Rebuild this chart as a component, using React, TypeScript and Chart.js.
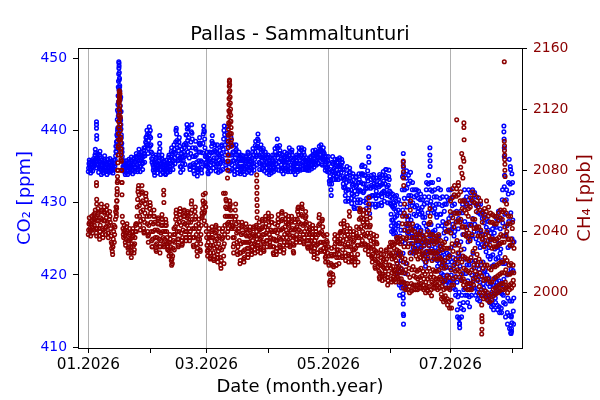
import React, { useEffect, useRef } from "react";
import { Chart, registerables } from "chart.js";

Chart.register(...registerables);

const CO2_COLOR = "#0000ff";
const CH4_COLOR = "#8b0000";

// x axis: days since 01.01.2026
const xTickDays = [0, 31, 59, 90, 120, 151, 181, 212];
const xTickLabels = ["01.2026", "", "03.2026", "", "05.2026", "", "07.2026", ""];
const co2Ticks = [410, 420, 430, 440, 450];
const ch4Ticks = [2000, 2040, 2080, 2120, 2160];

// ---- CO2 [ppm], 6 samples per day (every 4 h) ----
const co2Jan = [
  434.3, 434.8, 435.4, 435.9, 435.6, 435.0, 434.6, 434.1, 434.5, 435.2, 435.8, 435.4,
  434.9, 434.4, 435.0, 435.7, 436.1, 435.5, 435.1, 435.9, 436.6, 437.4, 436.9, 436.2,
  435.6, 434.8, 435.3, 436.1, 436.8, 436.0, 435.2, 434.2, 434.9, 435.8, 436.6, 437.1,
  436.4, 435.6, 434.7, 433.9, 434.5, 435.3, 435.9, 435.2, 434.5, 434.1, 434.6, 435.4,
  436.0, 436.5, 435.8, 435.0, 434.3, 434.8, 435.4, 434.6, 433.9, 434.4, 435.2, 436.0,
  435.6, 434.9, 434.2, 434.8, 435.5, 436.1, 435.6, 435.0, 434.3, 434.7, 435.3, 435.8,
  435.2, 434.5, 434.1, 434.8, 435.5, 435.9, 435.4, 434.6, 435.1, 435.9, 436.5, 437.1,
  437.0, 437.8, 438.5, 439.2, 439.9, 440.4, 442.5, 444.0, 445.6, 447.0, 446.0, 444.4,
  442.6, 441.4, 440.2, 439.0, 438.2, 437.5, 436.4, 435.8, 435.0, 434.4, 434.8, 435.4,
  435.8, 435.2, 434.5, 433.9, 434.2, 434.9, 435.4, 435.8, 435.1, 434.5, 433.9, 434.4,
  434.9, 435.5, 436.0, 435.4, 434.7, 434.2, 434.6, 435.2, 435.9, 436.3, 435.7, 435.0,
  434.4, 434.0, 434.6, 435.3, 436.0, 436.2, 435.6, 434.9, 434.3, 434.8, 435.6, 436.4,
  436.8, 436.1, 435.3, 434.6, 434.3, 435.0, 435.8, 436.6, 437.4, 436.8, 435.9, 435.0,
  434.3, 435.0, 435.8, 436.5, 437.0, 436.2, 435.4, 434.6, 435.5, 436.4, 437.2, 437.6,
  436.8, 435.6, 436.5, 437.6, 438.4, 439.0, 438.2, 439.1, 440.0, 439.4, 438.0, 436.8,
  437.5, 438.6, 439.6, 440.5, 439.2, 437.8,
];
const co2Feb = [
  440.0, 439.0, 438.0, 437.0, 436.1, 435.6, 436.8, 436.0, 435.2, 434.5, 434.9, 435.6,
  434.2, 433.8, 434.6, 435.4, 436.1, 436.6, 436.3, 435.6, 434.8, 434.1, 434.6, 435.2,
  435.0, 435.8, 436.6, 437.0, 436.2, 435.3, 434.5, 433.9, 434.6, 435.4, 436.1, 436.6,
  436.0, 435.3, 434.6, 434.1, 434.8, 435.6, 435.8, 435.2, 434.6, 434.0, 433.9, 434.6,
  435.2, 435.9, 435.4, 434.7, 434.2, 434.8, 435.5, 436.3, 436.6, 435.8, 435.0, 434.3,
  434.6, 435.4, 436.3, 437.1, 437.6, 436.8, 436.0, 435.2, 434.6, 435.8, 437.0, 438.0,
  437.4, 436.2, 435.4, 436.8, 438.4, 440.0, 440.3, 439.5, 438.6, 437.6, 436.5, 435.8,
  436.0, 437.2, 438.4, 439.0, 437.8, 436.2, 435.0, 434.2, 434.9, 435.9, 436.8, 437.4,
  436.4, 435.4, 434.6, 435.8, 437.0, 438.0, 437.6, 436.4, 435.3, 436.6, 438.2, 439.4,
  438.0, 439.4, 440.8, 440.2, 438.6, 437.0, 440.4, 439.0, 437.6, 436.2, 435.0, 434.6,
  435.2, 436.8, 438.4, 439.8, 440.8, 439.6, 438.8, 437.6, 436.4, 435.4, 434.4, 434.9,
  434.0, 435.2, 436.4, 437.6, 438.5, 437.4, 436.6, 435.6, 434.6, 433.7, 434.3, 435.2,
  434.6, 435.8, 437.0, 438.2, 439.0, 438.0, 438.2, 437.0, 435.8, 434.6, 434.1, 434.9,
  435.6, 436.9, 438.2, 439.5, 440.6, 440.0, 439.8, 438.8, 437.6, 436.4, 435.4, 435.1,
];
const co2Mar = [
  435.6, 436.4, 437.0, 436.2, 435.0, 434.2, 434.0, 434.8, 435.8, 436.6, 437.0, 436.0,
  435.2, 434.4, 435.6, 436.9, 437.8, 438.5, 439.3, 438.2, 437.0, 435.8, 434.8, 435.4,
  436.2, 437.2, 438.0, 437.0, 435.6, 434.4, 435.0, 436.2, 437.4, 438.0, 436.8, 435.4,
  434.2, 435.0, 435.9, 436.6, 437.2, 436.4, 435.4, 434.4, 435.6, 436.8, 437.8, 438.0,
  436.0, 434.6, 435.8, 437.4, 438.8, 440.0, 440.6, 439.4, 438.0, 436.6, 435.2, 434.8,
  435.6, 437.0, 438.4, 439.6, 440.5, 439.0, 439.4, 438.0, 436.6, 435.4, 434.4, 435.6,
  436.6, 437.8, 439.0, 438.0, 436.6, 435.2, 434.6, 435.8, 437.0, 438.0, 437.0, 435.8,
  434.4, 433.9, 435.0, 436.2, 437.2, 438.0, 437.4, 436.6, 435.6, 434.6, 434.1, 435.0,
  435.8, 436.6, 437.0, 436.0, 435.0, 434.3, 434.0, 434.9, 435.8, 436.6, 436.0, 435.0,
  434.3, 435.0, 435.8, 436.5, 435.9, 435.1, 434.4, 433.9, 434.7, 435.6, 436.3, 436.5,
  435.8, 434.9, 434.2, 435.0, 436.0, 437.0, 436.8, 436.0, 435.2, 434.4, 434.9, 435.8,
  436.4, 435.6, 434.8, 434.1, 434.6, 435.4, 436.2, 437.0, 437.5, 436.6, 435.4, 434.5,
  435.0, 436.0, 437.0, 437.9, 438.5, 437.6, 436.4, 435.2, 436.6, 437.8, 438.8, 439.5,
  438.6, 437.6, 436.6, 435.6, 434.6, 435.4, 436.4, 437.4, 438.0, 437.0, 435.8, 434.6,
  435.2, 436.2, 437.2, 437.5, 436.4, 435.2, 434.4, 435.2, 436.2, 437.0, 436.6, 435.6,
  434.8, 434.1, 434.8, 435.6, 436.3, 436.6,
];
const co2Apr = [
  436.2, 435.4, 434.6, 433.9, 434.5, 435.4, 436.2, 435.5, 434.8, 434.1, 434.5, 435.3,
  436.0, 436.6, 435.8, 435.0, 434.3, 434.8, 435.6, 436.6, 437.5, 437.0, 435.8, 434.6,
  435.4, 436.6, 437.8, 438.8, 437.6, 436.2, 435.0, 434.5, 435.6, 436.8, 437.9, 437.2,
  436.8, 436.0, 435.2, 434.4, 434.8, 435.8, 436.6, 435.7, 434.8, 434.0, 434.6, 435.6,
  436.4, 437.0, 436.2, 435.2, 434.4, 434.8, 435.6, 436.4, 436.8, 435.9, 435.0, 434.3,
  434.6, 435.6, 436.6, 437.6, 437.0, 436.0, 434.8, 434.3, 435.2, 436.2, 437.0, 437.3,
  436.6, 435.9, 435.1, 434.3, 434.6, 435.4, 436.1, 435.3, 434.5, 433.9, 434.6, 435.5,
  436.3, 436.6, 435.8, 435.0, 434.3, 434.6, 435.4, 436.5, 437.6, 437.0, 435.8, 434.7,
  434.5, 435.4, 436.4, 437.3, 437.6, 436.6, 435.6, 434.6, 435.2, 436.2, 437.0, 437.4,
  436.6, 435.9, 435.2, 434.6, 434.9, 435.7, 436.2, 435.6, 434.9, 434.5, 434.8, 435.5,
  436.0, 435.4, 434.8, 434.5, 435.0, 435.7, 436.2, 436.4, 435.7, 435.1, 434.7, 435.2,
  435.8, 436.6, 437.2, 436.5, 435.6, 434.9, 435.3, 436.0, 436.8, 437.3, 436.7, 435.8,
  435.2, 435.9, 436.6, 437.0, 436.3, 435.5, 435.4, 436.2, 437.0, 437.8, 437.2, 436.2,
  436.6, 437.4, 438.0, 437.2, 436.2, 435.4, 435.2, 436.0, 436.8, 437.6, 437.0, 436.1,
  436.8, 436.0, 435.2, 434.5, 434.9, 435.7, 436.4, 435.6, 434.8, 434.3, 434.9, 435.8,
];
const co2May = [
  436.4, 435.4, 434.2, 433.0, 432.6, 433.6, 434.6, 433.2, 431.8, 431.0, 432.6, 434.4,
  435.6, 436.4, 435.4, 434.2, 433.2, 433.8, 434.8, 435.6, 436.0, 435.0, 434.0, 433.2,
  433.6, 434.6, 435.6, 436.0, 435.0, 434.0, 433.2, 434.0, 435.0, 435.9, 436.2, 435.2,
  434.6, 433.4, 434.2, 435.2, 436.0, 435.6, 435.6, 434.6, 433.6, 432.6, 432.1, 433.2,
  434.6, 433.4, 432.2, 431.0, 430.2, 431.6, 432.8, 434.0, 435.0, 433.6, 431.8, 430.2,
  430.6, 431.8, 433.0, 434.2, 434.8, 433.4, 434.2, 433.0, 431.8, 430.6, 429.9, 431.2,
  432.4, 433.6, 434.0, 432.6, 431.0, 429.4, 429.2, 430.4, 431.6, 432.8, 433.5, 432.2,
  433.6, 432.4, 431.2, 430.0, 429.2, 430.4, 431.6, 432.8, 434.0, 433.2, 431.8, 430.0,
  430.4, 431.6, 432.8, 434.0, 435.0, 433.8, 435.2, 434.0, 432.6, 431.4, 430.2, 431.6,
  432.6, 433.8, 435.0, 433.8, 432.0, 430.0, 429.2, 430.6, 432.0, 433.4, 434.4, 433.0,
  433.6, 432.2, 430.8, 429.4, 428.5, 429.8, 430.8, 432.0, 433.2, 433.8, 432.4, 431.0,
  429.8, 431.0, 432.2, 433.4, 433.9, 432.6, 433.2, 432.2, 431.0, 429.8, 429.4, 430.6,
  431.6, 432.6, 433.4, 432.4, 431.0, 429.6, 429.8, 431.0, 432.2, 433.4, 433.9, 432.8,
  433.6, 432.4, 431.2, 430.0, 429.6, 430.8, 431.4, 432.6, 433.8, 434.3, 433.0, 431.6,
  430.2, 431.4, 432.6, 433.8, 434.6, 433.4, 434.6, 433.4, 432.2, 431.0, 430.0, 431.2,
  432.4, 433.6, 434.5, 433.2, 431.6, 430.0,
];
// ---- CO2 [ppm], 8 samples per day (every 3 h) ----
const co2Jun = [
  430.8, 431.4, 429.8, 428.4, 426.8, 426.0, 427.6, 429.6, 430.6, 431.2, 429.4, 427.6, 426.2, 425.7, 427.2, 429.2,
  430.0, 430.9, 429.6, 428.0, 426.4, 425.8, 427.0, 428.8, 430.2, 431.0, 428.2, 425.0, 421.6, 420.2, 423.0, 426.8,
  429.0, 430.4, 427.2, 422.8, 418.6, 417.2, 420.4, 425.4, 428.6, 429.8, 426.2, 422.0, 418.8, 418.2, 420.8, 424.6,
  431.8, 433.6, 429.0, 423.0, 416.8, 414.4, 419.0, 426.2, 430.6, 431.8, 428.2, 424.4, 420.2, 418.2, 421.6, 427.0,
  433.4, 434.4, 432.0, 429.4, 426.8, 425.8, 427.6, 430.6, 432.6, 433.8, 431.0, 428.2, 426.0, 425.2, 427.0, 430.0,
  433.0, 434.2, 431.0, 427.6, 424.4, 423.2, 425.8, 429.6, 431.8, 432.8, 430.0, 426.6, 423.8, 423.0, 425.2, 428.4,
  430.8, 431.8, 429.4, 426.4, 424.0, 423.2, 425.2, 428.2, 431.0, 431.8, 429.6, 426.8, 424.6, 423.6, 425.8, 428.8,
  430.6, 431.6, 429.2, 426.6, 424.6, 423.8, 425.6, 428.4, 430.4, 431.2, 429.0, 426.2, 424.4, 423.8, 425.6, 428.6,
  429.4, 430.4, 428.0, 425.0, 422.8, 422.2, 424.0, 427.2, 429.8, 430.8, 428.0, 424.6, 421.8, 421.2, 423.2, 426.8,
  431.8, 432.8, 430.0, 426.2, 423.0, 422.2, 424.6, 428.6, 432.6, 433.8, 430.8, 427.0, 424.0, 423.2, 425.4, 429.6,
  431.8, 432.8, 430.2, 427.0, 424.6, 423.6, 425.8, 429.0, 431.6, 432.8, 429.6, 426.0, 423.0, 422.2, 424.6, 428.6,
  430.8, 431.8, 429.2, 426.2, 423.8, 423.0, 425.0, 428.4, 429.8, 430.8, 428.0, 424.6, 422.0, 421.2, 423.2, 426.8,
  432.0, 433.2, 429.8, 425.4, 422.6, 421.6, 424.0, 428.4, 430.6, 431.8, 428.4, 424.0, 421.0, 420.2, 422.6, 426.8,
  429.6, 430.8, 427.4, 423.2, 420.0, 419.2, 421.6, 425.8, 428.8, 429.8, 426.4, 422.4, 419.4, 418.6, 421.0, 425.0,
  429.8, 430.8, 427.2, 423.0, 420.0, 419.2, 421.8, 426.0, 430.4, 431.8, 427.8, 422.8, 419.0, 418.2, 421.0, 426.2,
];
const co2Jul = [
  430.6, 431.8, 428.2, 423.8, 420.0, 419.2, 421.8, 426.4, 429.6, 430.8, 427.0, 422.4, 419.0, 418.2, 420.8, 425.4,
  428.6, 429.8, 426.0, 421.6, 418.0, 417.2, 419.8, 424.4, 427.4, 428.8, 424.4, 419.0, 415.2, 414.2, 417.0, 422.4,
  426.4, 427.8, 423.0, 417.6, 414.0, 413.2, 416.0, 421.2, 427.4, 428.8, 424.6, 419.4, 415.4, 414.2, 417.2, 422.6,
  428.6, 429.8, 425.6, 420.2, 416.2, 415.2, 418.0, 423.6, 430.4, 431.8, 427.4, 422.2, 418.2, 417.2, 420.2, 425.6,
  429.6, 430.8, 426.6, 421.4, 417.2, 416.2, 419.2, 424.6, 430.4, 431.8, 427.0, 421.4, 417.0, 415.6, 418.8, 425.0,
  430.0, 431.4, 427.0, 422.0, 418.2, 417.2, 420.0, 425.4, 430.6, 431.8, 427.8, 423.0, 419.2, 418.2, 421.0, 426.0,
  430.0, 431.4, 427.0, 422.0, 418.2, 417.2, 420.0, 425.0, 429.6, 430.8, 426.6, 421.4, 417.6, 416.6, 419.4, 424.4,
  428.6, 429.8, 425.8, 420.8, 417.2, 416.4, 419.0, 423.8, 428.4, 429.8, 426.0, 421.4, 418.0, 417.2, 419.8, 424.2,
  427.8, 428.8, 425.6, 421.8, 418.8, 418.2, 420.4, 424.0, 427.2, 428.4, 424.8, 420.6, 417.8, 417.2, 419.4, 423.2,
  426.6, 427.8, 424.2, 420.0, 417.2, 416.6, 418.8, 422.6, 426.2, 427.4, 423.8, 419.6, 416.8, 416.2, 418.4, 422.2,
  424.8, 425.8, 422.6, 418.8, 416.2, 415.6, 417.6, 421.2, 425.2, 426.4, 422.8, 418.6, 415.8, 415.2, 417.4, 421.4,
  425.8, 426.8, 423.6, 419.6, 416.8, 416.2, 418.4, 422.2, 426.6, 427.8, 423.8, 419.0, 415.8, 415.2, 417.8, 422.4,
  427.6, 428.8, 424.4, 419.2, 415.6, 414.8, 417.6, 423.0, 426.4, 427.8, 423.6, 418.6, 415.4, 414.8, 417.4, 422.0,
  430.4, 431.8, 427.2, 421.6, 417.2, 416.2, 419.4, 425.4, 432.2, 433.8, 428.4, 421.6, 416.0, 414.2, 418.2, 425.6,
  430.4, 431.8, 426.8, 420.0, 414.8, 413.2, 416.8, 423.8, 431.2, 432.8, 427.4, 420.2, 414.4, 412.6, 416.4, 424.0,
  432.6, 434.6, 428.6, 420.8, 414.2, 412.2, 416.4, 425.0,
];
const co2Aug = [431.4, 432.8, 427.6, 420.6, 415.0, 413.2, 416.8, 424.6];

// isolated CO2 samples (spikes), day and value
const co2ExtraDays = [
  4.1, 4.1, 4.1, 4.2, 4.2,
  13.8, 14.1, 14.3, 14.5, 14.6, 14.7, 14.8, 14.9, 15.0, 15.0, 15.1, 15.2, 15.25, 15.3, 15.35, 15.4, 15.5, 15.5,
  15.6, 15.7, 15.8, 15.8, 15.9, 16.0, 16.1, 16.2, 16.3, 16.4, 16.5, 16.7, 16.9,
  35.7, 35.7, 35.8,
  140.2, 140.2, 140.3,
  157.5, 157.5, 157.6, 157.6, 157.4, 157.5, 157.5, 157.6,
  170.8, 170.8, 170.9, 170.9,
  185.5, 185.6, 185.7,
  207.8, 207.8, 207.9, 208.0, 208.0,
  210.5, 211.0, 211.8, 211.2, 211.4, 211.6, 211.8, 211.5,
];
const co2ExtraVals = [
  441.2, 440.8, 440.3, 439.3, 438.8,
  437.8, 438.4, 439.4, 441.5, 442.8, 440.2, 443.6, 444.8, 446.0, 442.0, 446.8, 447.8, 449.5, 448.6, 449.3, 448.9, 448.0, 443.0,
  447.2, 446.2, 445.4, 441.5, 444.2, 443.4, 441.6, 444.6, 440.8, 442.6, 439.4, 438.2, 437.0,
  439.3, 438.2, 437.5,
  437.6, 436.4, 435.6,
  436.8, 435.6, 434.9, 434.0, 417.4, 416.0, 414.6, 413.2,
  437.6, 436.6, 435.8, 435.0,
  414.0, 413.3, 412.7,
  440.6, 439.8, 438.8, 437.6, 436.4,
  436.0, 435.0, 434.0, 412.0, 411.9, 412.6, 413.4, 414.4,
];

// ---- CH4 [ppb], 6 samples per day (every 4 h) ----
const ch4Jan = [
  2038, 2041, 2045, 2049, 2046, 2042, 2040, 2037, 2041, 2045, 2050, 2047,
  2043, 2039, 2042, 2046, 2051, 2048, 2044, 2048, 2052, 2054, 2049, 2042,
  2039, 2037, 2042, 2047, 2051, 2055, 2052, 2047, 2042, 2037, 2035, 2040,
  2044, 2049, 2053, 2058, 2054, 2048, 2042, 2038, 2036, 2041, 2047, 2053,
  2056, 2052, 2047, 2042, 2038, 2043, 2049, 2054, 2057, 2052, 2045, 2039,
  2036, 2039, 2044, 2048, 2053, 2050, 2046, 2042, 2037, 2033, 2029, 2032,
  2027, 2025, 2030, 2035, 2040, 2044, 2033, 2038, 2043, 2048, 2053, 2056,
  2050, 2055, 2060, 2066, 2073, 2080, 2096, 2104, 2112, 2120, 2127, 2130,
  2100, 2094, 2087, 2080, 2072, 2064, 2050, 2046, 2042, 2038, 2036, 2040,
  2044, 2041, 2037, 2033, 2031, 2035, 2039, 2043, 2045, 2040, 2034, 2029,
  2026, 2030, 2034, 2038, 2042, 2039, 2035, 2030, 2026, 2023, 2027, 2032,
  2036, 2040, 2042, 2037, 2031, 2026, 2028, 2032, 2036, 2040, 2044, 2045,
  2040, 2045, 2050, 2056, 2061, 2066, 2068, 2070, 2064, 2057, 2050, 2044,
  2041, 2047, 2053, 2059, 2065, 2070, 2066, 2060, 2054, 2048, 2042, 2039,
  2040, 2046, 2052, 2058, 2063, 2065, 2061, 2056, 2050, 2045, 2040, 2037,
  2033, 2038, 2044, 2050, 2055, 2059,
];
const ch4Feb = [
  2057, 2052, 2046, 2040, 2034, 2030, 2030, 2035, 2040, 2045, 2050, 2054,
  2050, 2046, 2041, 2036, 2031, 2028, 2027, 2032, 2036, 2041, 2045, 2048,
  2049, 2045, 2040, 2035, 2030, 2026, 2030, 2034, 2039, 2044, 2048, 2051,
  2048, 2044, 2040, 2036, 2032, 2030, 2031, 2035, 2040, 2044, 2048, 2046,
  2044, 2040, 2036, 2032, 2028, 2030, 2033, 2028, 2024, 2027, 2033, 2038,
  2035, 2030, 2025, 2021, 2018, 2022, 2019, 2024, 2029, 2034, 2038, 2042,
  2028, 2033, 2038, 2043, 2048, 2052, 2054, 2050, 2045, 2040, 2035, 2031,
  2030, 2035, 2040, 2046, 2051, 2055, 2053, 2049, 2044, 2039, 2034, 2031,
  2032, 2036, 2041, 2046, 2050, 2053, 2054, 2050, 2045, 2040, 2036, 2034,
  2036, 2040, 2044, 2049, 2053, 2052, 2050, 2046, 2042, 2038, 2034, 2036,
  2040, 2046, 2052, 2058, 2060, 2054, 2048, 2042, 2036, 2031, 2030, 2036,
  2042, 2048, 2053, 2056, 2050, 2044, 2038, 2032, 2027, 2024, 2029, 2035,
  2040, 2045, 2048, 2042, 2035, 2028, 2027, 2032, 2038, 2044, 2049, 2052,
  2050, 2055, 2060, 2064, 2058, 2052, 2047, 2053, 2059, 2065, 2056, 2044,
];
const ch4Mar = [
  2040, 2036, 2031, 2027, 2024, 2028, 2033, 2038, 2042, 2036, 2029, 2023,
  2022, 2026, 2031, 2036, 2040, 2043, 2041, 2036, 2031, 2026, 2022, 2021,
  2024, 2029, 2034, 2039, 2043, 2044, 2040, 2035, 2030, 2025, 2020, 2023,
  2027, 2032, 2037, 2042, 2036, 2029, 2023, 2018, 2016, 2021, 2028, 2035,
  2040, 2042, 2036, 2030, 2024, 2019, 2032, 2038, 2044, 2050, 2056, 2061,
  2060, 2055, 2050, 2045, 2040, 2036, 2042, 2046, 2050, 2055, 2060, 2057,
  2058, 2054, 2050, 2046, 2042, 2044, 2050, 2043, 2036, 2030, 2026, 2032,
  2036, 2042, 2048, 2054, 2058, 2050, 2045, 2039, 2033, 2027, 2025, 2030,
  2040, 2046, 2042, 2034, 2026, 2019, 2021, 2026, 2032, 2038, 2043, 2046,
  2044, 2039, 2033, 2027, 2022, 2020, 2023, 2028, 2033, 2038, 2042, 2045,
  2041, 2037, 2033, 2029, 2025, 2023, 2025, 2029, 2033, 2037, 2041, 2043,
  2040, 2036, 2032, 2028, 2025, 2027, 2030, 2034, 2038, 2042, 2043, 2037,
  2032, 2028, 2026, 2031, 2037, 2043, 2044, 2040, 2035, 2031, 2027, 2029,
  2033, 2038, 2042, 2046, 2041, 2035, 2029, 2026, 2030, 2036, 2042, 2047,
  2048, 2043, 2038, 2033, 2028, 2027, 2032, 2038, 2043, 2048, 2050, 2045,
  2039, 2034, 2030, 2034, 2041, 2048,
];
const ch4Apr = [
  2052, 2049, 2044, 2038, 2033, 2030, 2031, 2036, 2041, 2046, 2050, 2046,
  2040, 2035, 2030, 2026, 2025, 2030, 2035, 2040, 2045, 2041, 2034, 2027,
  2025, 2029, 2034, 2039, 2044, 2048, 2051, 2046, 2041, 2036, 2031, 2027,
  2030, 2035, 2041, 2047, 2052, 2053, 2048, 2042, 2036, 2031, 2026, 2028,
  2033, 2038, 2043, 2048, 2051, 2046, 2041, 2036, 2031, 2033, 2039, 2045,
  2048, 2050, 2044, 2038, 2033, 2030, 2031, 2036, 2041, 2046, 2050, 2047,
  2042, 2037, 2032, 2027, 2026, 2031, 2036, 2041, 2046, 2048, 2042, 2035,
  2033, 2038, 2043, 2048, 2053, 2055, 2056, 2051, 2046, 2041, 2036, 2033,
  2035, 2040, 2045, 2051, 2056, 2058, 2055, 2050, 2044, 2038, 2033, 2032,
  2036, 2040, 2045, 2049, 2053, 2050, 2046, 2042, 2038, 2034, 2030, 2029,
  2030, 2034, 2038, 2042, 2045, 2041, 2038, 2034, 2030, 2027, 2031, 2036,
  2042, 2044, 2038, 2032, 2027, 2023, 2025, 2029, 2034, 2038, 2042, 2040,
  2036, 2031, 2026, 2022, 2026, 2032, 2038, 2044, 2049, 2051, 2045, 2039,
  2033, 2028, 2027, 2033, 2040, 2047, 2048, 2043, 2038, 2033, 2029, 2027,
  2037, 2032, 2027, 2023, 2020, 2024, 2029, 2034, 2038, 2033, 2026, 2020,
];
const ch4May = [
  2030, 2024, 2018, 2012, 2007, 2005, 2008, 2013, 2019, 2025, 2029, 2024,
  2018, 2012, 2007, 2010, 2017, 2025, 2030, 2035, 2038, 2032, 2025, 2018,
  2018, 2023, 2028, 2033, 2037, 2034, 2028, 2023, 2019, 2025, 2032, 2039,
  2035, 2040, 2045, 2040, 2032, 2024, 2023, 2028, 2034, 2040, 2045, 2047,
  2043, 2037, 2031, 2026, 2021, 2024, 2030, 2035, 2040, 2044, 2038, 2032,
  2025, 2020, 2024, 2030, 2036, 2042, 2040, 2035, 2030, 2025, 2021, 2020,
  2023, 2028, 2033, 2038, 2040, 2034, 2028, 2023, 2018, 2022, 2029, 2036,
  2039, 2043, 2037, 2031, 2025, 2020, 2031, 2036, 2042, 2048, 2053, 2055,
  2054, 2049, 2043, 2037, 2032, 2031, 2034, 2040, 2046, 2051, 2054, 2048,
  2044, 2038, 2032, 2028, 2031, 2037, 2043, 2048, 2052, 2046, 2039, 2031,
  2027, 2025, 2030, 2036, 2043, 2049, 2044, 2039, 2034, 2029, 2024, 2023,
  2020, 2025, 2030, 2035, 2038, 2033, 2028, 2022, 2017, 2016, 2021, 2027,
  2033, 2037, 2032, 2026, 2020, 2017, 2024, 2019, 2014, 2010, 2009, 2013,
  2018, 2023, 2028, 2025, 2018, 2011, 2008, 2012, 2017, 2021, 2025, 2022,
  2016, 2011, 2009, 2014, 2020, 2027, 2028, 2022, 2016, 2010, 2005, 2008,
  2012, 2018, 2024, 2030, 2026, 2018,
];
// ---- CH4 [ppb], 8 samples per day (every 3 h) ----
const ch4Jun = [
  2030, 2033, 2025, 2016, 2009, 2007, 2013, 2022, 2031, 2033, 2026, 2017, 2010, 2008, 2014, 2023,
  2029, 2032, 2024, 2015, 2009, 2007, 2012, 2021, 2033, 2036, 2028, 2019, 2012, 2010, 2016, 2025,
  2033, 2036, 2027, 2017, 2009, 2007, 2014, 2024, 2032, 2035, 2026, 2016, 2009, 2007, 2013, 2023,
  2045, 2050, 2036, 2020, 2007, 2003, 2013, 2030, 2052, 2058, 2041, 2022, 2006, 2002, 2015, 2035,
  2045, 2050, 2036, 2019, 2006, 2002, 2012, 2030, 2040, 2045, 2032, 2016, 2004, 2000, 2010, 2026,
  2054, 2060, 2042, 2022, 2006, 2001, 2015, 2036, 2041, 2045, 2032, 2017, 2005, 2002, 2011, 2027,
  2036, 2040, 2029, 2015, 2005, 2002, 2010, 2024, 2034, 2038, 2027, 2014, 2005, 2002, 2009, 2022,
  2034, 2038, 2027, 2015, 2006, 2003, 2010, 2023, 2036, 2040, 2029, 2016, 2006, 2003, 2011, 2025,
  2033, 2037, 2026, 2014, 2005, 2002, 2009, 2022, 2031, 2035, 2024, 2012, 2003, 2000, 2007, 2020,
  2034, 2038, 2027, 2014, 2004, 2001, 2009, 2023, 2040, 2045, 2031, 2016, 2004, 2000, 2010, 2027,
  2034, 2038, 2026, 2012, 2002, 1998, 2007, 2021, 2034, 2038, 2027, 2015, 2006, 2003, 2010, 2023,
  2032, 2036, 2026, 2014, 2006, 2003, 2009, 2022, 2033, 2037, 2026, 2014, 2005, 2002, 2009, 2022,
  2034, 2038, 2027, 2015, 2006, 2003, 2010, 2023, 2030, 2034, 2022, 2009, 1999, 1996, 2004, 2018,
  2028, 2032, 2020, 2007, 1997, 1994, 2002, 2016, 2029, 2033, 2021, 2008, 1998, 1995, 2003, 2017,
  2040, 2045, 2029, 2011, 1996, 1992, 2003, 2023, 2041, 2046, 2029, 2010, 1994, 1990, 2002, 2024,
];
const ch4Jul = [
  2053, 2060, 2039, 2015, 1995, 1990, 2005, 2032, 2062, 2068, 2049, 2027, 2009, 2005, 2018, 2043,
  2064, 2070, 2052, 2031, 2014, 2010, 2022, 2046, 2063, 2068, 2052, 2034, 2019, 2015, 2026, 2047,
  2064, 2070, 2052, 2031, 2014, 2010, 2022, 2046, 2060, 2066, 2048, 2028, 2012, 2008, 2020, 2043,
  2055, 2060, 2043, 2024, 2009, 2005, 2016, 2038, 2054, 2060, 2043, 2023, 2007, 2003, 2015, 2037,
  2052, 2058, 2041, 2022, 2006, 2002, 2014, 2036, 2050, 2055, 2039, 2021, 2006, 2002, 2013, 2034,
  2056, 2062, 2044, 2023, 2006, 2002, 2015, 2038, 2060, 2066, 2048, 2027, 2009, 2005, 2018, 2042,
  2059, 2064, 2048, 2029, 2014, 2010, 2021, 2042, 2053, 2058, 2043, 2025, 2012, 2008, 2018, 2037,
  2056, 2062, 2043, 2022, 2004, 2000, 2013, 2037, 2054, 2060, 2041, 2020, 2002, 1998, 2011, 2035,
  2046, 2052, 2035, 2016, 2000, 1996, 2008, 2030, 2049, 2055, 2038, 2018, 2001, 1997, 2009, 2032,
  2053, 2060, 2040, 2018, 2000, 1995, 2009, 2034, 2050, 2056, 2037, 2016, 1998, 1994, 2007, 2031,
  2046, 2052, 2035, 2015, 1999, 1995, 2007, 2029, 2046, 2051, 2035, 2017, 2002, 1998, 2009, 2030,
  2045, 2050, 2034, 2017, 2003, 1999, 2010, 2030, 2045, 2050, 2035, 2018, 2004, 2000, 2011, 2031,
  2047, 2052, 2036, 2019, 2005, 2001, 2012, 2032, 2049, 2054, 2038, 2020, 2006, 2002, 2013, 2033,
  2048, 2053, 2037, 2020, 2006, 2002, 2013, 2033, 2054, 2060, 2043, 2023, 2007, 2003, 2015, 2037,
  2052, 2058, 2040, 2021, 2004, 2000, 2012, 2035, 2045, 2050, 2035, 2018, 2005, 2002, 2012, 2031,
  2045, 2050, 2035, 2019, 2006, 2003, 2013, 2031,
];
const ch4Aug = [2042, 2046, 2033, 2018, 2008, 2005, 2013, 2029];

// isolated CH4 samples (spikes), day and value
const ch4ExtraDays = [
  4.1, 4.1, 4.2, 4.2,
  14.0, 14.1, 14.2, 14.3, 14.4, 14.5, 14.6, 14.7, 14.8, 14.9, 15.0, 15.1, 15.15, 15.2, 15.25, 15.3, 15.35,
  15.4, 15.45, 15.5, 15.55, 15.6, 15.7, 15.75, 15.8, 15.85, 15.9, 16.0, 16.1, 16.2, 16.3, 16.4, 16.5, 16.7,
  16.9, 15.3, 15.6, 15.8, 16.0, 15.5, 15.9, 16.2,
  37.7, 37.7, 37.8,
  67.6, 68.5,
  69.6, 69.7, 69.8, 69.9, 70.0, 70.05, 70.1, 70.15, 70.2, 70.25, 70.3, 70.35, 70.4, 70.45, 70.5, 70.55, 70.6,
  70.7, 70.8, 70.9, 71.0, 71.1, 71.2, 71.3, 71.4, 71.5, 71.6, 71.7, 71.0, 70.9, 71.2, 70.7, 70.4,
  84.2, 84.2, 84.3, 84.3, 84.3, 84.4, 84.4, 84.4,
  130.5, 130.6,
  140.2, 140.2, 140.3,
  157.5, 157.5, 157.6, 157.6, 157.7,
  170.8, 170.9, 170.9,
  184.2, 187.8, 187.8, 187.9, 186.7, 187.4, 187.8, 186.2, 186.8, 187.3, 185.0,
  196.7, 196.8, 196.8, 196.9, 196.8, 196.7,
  208.0, 208.0, 208.1, 208.1, 208.2, 208.2, 208.3, 208.3, 208.4,
];
const ch4ExtraVals = [
  2072, 2070, 2061, 2058,
  2052, 2056, 2060, 2064, 2068, 2072, 2076, 2080, 2085, 2090, 2095, 2100, 2104, 2108, 2112, 2116, 2120,
  2124, 2128, 2131, 2132, 2129, 2126, 2122, 2118, 2114, 2110, 2106, 2102, 2098, 2094, 2090, 2086, 2080,
  2072, 2125, 2120, 2110, 2115, 2108, 2100, 2092,
  2067, 2064, 2059,
  2065, 2065,
  2075, 2080, 2086, 2090, 2095, 2099, 2103, 2107, 2111, 2115, 2119, 2123, 2127, 2131, 2135, 2138, 2139,
  2136, 2132, 2128, 2124, 2120, 2116, 2112, 2108, 2104, 2100, 2096, 2112, 2104, 2098, 2118, 2110,
  2077, 2073, 2069, 2065, 2061, 2057, 2053, 2049,
  2053, 2050,
  2062, 2058, 2054,
  2086, 2083, 2079, 2075, 2070,
  2055, 2050, 2046,
  2113, 2111, 2108, 2100, 2091, 2088, 2086, 2082, 2078, 2075, 2072,
  1992, 1985, 1983, 1981, 1976, 1973,
  2151, 2099, 2096, 2093, 2090, 2087, 2084, 2080, 2076,
];

// [first day, samples per day, values]
type Block = [number, number, number[]];
const co2Blocks: Block[] = [
  [0, 6, co2Jan], [31, 6, co2Feb], [59, 6, co2Mar], [90, 6, co2Apr], [120, 6, co2May],
  [151, 8, co2Jun], [181, 8, co2Jul], [212, 8, co2Aug],
];
const ch4Blocks: Block[] = [
  [0, 6, ch4Jan], [31, 6, ch4Feb], [59, 6, ch4Mar], [90, 6, ch4Apr], [120, 6, ch4May],
  [151, 8, ch4Jun], [181, 8, ch4Jul], [212, 8, ch4Aug],
];

function blockPoints(blocks: Block[]) {
  return blocks.flatMap(([start, perDay, vals]) =>
    vals.map((v, i) => ({ x: start + i / perDay, y: v }))
  );
}
function pairPoints(days: number[], vals: number[]) {
  return days.map((d, i) => ({ x: d, y: vals[i] }));
}

const FONT = "'DejaVu Sans', 'Liberation Sans', sans-serif";

const decorPlugin = {
  id: "decor",
  afterDatasetsDraw(chart: any) {
    const { ctx, chartArea: a } = chart;
    ctx.save();
    ctx.strokeStyle = "#000";
    ctx.lineWidth = 1;
    ctx.strokeRect(a.left + 0.5, a.top + 0.5, a.right - a.left, a.bottom - a.top);
    ctx.restore();
  },
  afterDraw(chart: any) {
    const { ctx, chartArea: a } = chart;
    const cx = (a.left + a.right) / 2;
    const cy = (a.top + a.bottom) / 2;
    ctx.save();
    ctx.textAlign = "center";
    ctx.textBaseline = "alphabetic";
    ctx.fillStyle = "#000";
    ctx.font = `19.4px ${FONT}`;
    ctx.fillText("Pallas - Sammaltunturi", cx, 40);
    ctx.font = `18px ${FONT}`;
    ctx.fillText("Date (month.year)", cx, 392);
    ctx.save();
    ctx.translate(29.5, cy);
    ctx.rotate(-Math.PI / 2);
    ctx.fillStyle = CO2_COLOR;
    ctx.fillText("CO\u2082 [ppm]", 0, 0);
    ctx.restore();
    ctx.save();
    ctx.translate(590, cy);
    ctx.rotate(-Math.PI / 2);
    ctx.fillStyle = CH4_COLOR;
    ctx.fillText("CH\u2084 [ppb]", 0, 0);
    ctx.restore();
    ctx.restore();
  },
};

export default function App() {
  const canvasRef = useRef<HTMLCanvasElement | null>(null);

  useEffect(() => {
    const canvas = canvasRef.current;
    if (!canvas) return;
    const pointStyle = (color: string) => ({
      pointStyle: "circle" as const,
      pointRadius: 1.8,
      pointHoverRadius: 1.8,
      pointBorderWidth: 1.5,
      pointBorderColor: color,
      pointBackgroundColor: "rgba(0,0,0,0)",
      borderColor: color,
      backgroundColor: "rgba(0,0,0,0)",
      showLine: false,
    });
    const chart = new Chart(canvas, {
      type: "scatter",
      data: {
        datasets: [
          { label: "CH4", data: blockPoints(ch4Blocks), yAxisID: "y1", ...pointStyle(CH4_COLOR) },
          { label: "CH4 spikes", data: pairPoints(ch4ExtraDays, ch4ExtraVals), yAxisID: "y1", ...pointStyle(CH4_COLOR) },
          { label: "CO2", data: blockPoints(co2Blocks), yAxisID: "y", ...pointStyle(CO2_COLOR) },
          { label: "CO2 spikes", data: pairPoints(co2ExtraDays, co2ExtraVals), yAxisID: "y", ...pointStyle(CO2_COLOR) },
        ],
      },
      options: {
        animation: false,
        responsive: false,
        events: [],
        layout: { padding: { top: 48, left: 0, right: 0, bottom: 0 } },
        plugins: {
          legend: { display: false },
          tooltip: { enabled: false },
          title: { display: false },
        },
        scales: {
          x: {
            type: "linear",
            position: "bottom",
            min: -5.15,
            max: 216.85,
            afterBuildTicks: (s: any) => {
              s.ticks = xTickDays.map((v) => ({ value: v }));
            },
            afterFit: (s: any) => {
              s.height = 52;
            },
            ticks: {
              autoSkip: false,
              maxRotation: 0,
              minRotation: 0,
              padding: 3,
              color: "#000",
              font: { family: FONT, size: 15.3 },
              callback: (v: any) => xTickLabels[xTickDays.indexOf(Number(v))] ?? "",
            },
            grid: {
              display: true,
              drawOnChartArea: true,
              drawTicks: true,
              tickLength: 5,
              tickWidth: 1,
              tickColor: "#000",
              lineWidth: 1,
              color: (c: any) =>
                c.tick && xTickLabels[xTickDays.indexOf(c.tick.value)] ? "#b0b0b0" : "rgba(0,0,0,0)",
            },
            border: { display: false },
          },
          y: {
            type: "linear",
            position: "left",
            min: 409.9,
            max: 451.4,
            afterBuildTicks: (s: any) => {
              s.ticks = co2Ticks.map((v) => ({ value: v }));
            },
            afterFit: (s: any) => {
              s.width = 78;
            },
            ticks: {
              padding: 6,
              color: CO2_COLOR,
              font: { family: FONT, size: 13.9 },
              callback: (v: any) => String(v),
            },
            grid: {
              display: true,
              drawOnChartArea: false,
              drawTicks: true,
              tickLength: 5,
              tickWidth: 1,
              tickColor: "#000",
            },
            border: { display: false },
          },
          y1: {
            type: "linear",
            position: "right",
            min: 1963.8,
            max: 2160,
            afterBuildTicks: (s: any) => {
              s.ticks = ch4Ticks.map((v) => ({ value: v }));
            },
            afterFit: (s: any) => {
              s.width = 78;
            },
            ticks: {
              padding: 6,
              color: CH4_COLOR,
              font: { family: FONT, size: 13.9 },
              callback: (v: any) => String(v),
            },
            grid: {
              display: true,
              drawOnChartArea: false,
              drawTicks: true,
              tickLength: 5,
              tickWidth: 1,
              tickColor: "#000",
            },
            border: { display: false },
          },
        },
      } as any,
      plugins: [decorPlugin],
    });
    return () => chart.destroy();
  }, []);

  return (
    <div style={{ position: "fixed", left: 0, top: 0, width: 600, height: 400, background: "#fff" }}>
      <canvas ref={canvasRef} width={600} height={400} style={{ display: "block", width: 600, height: 400 }} />
    </div>
  );
}
